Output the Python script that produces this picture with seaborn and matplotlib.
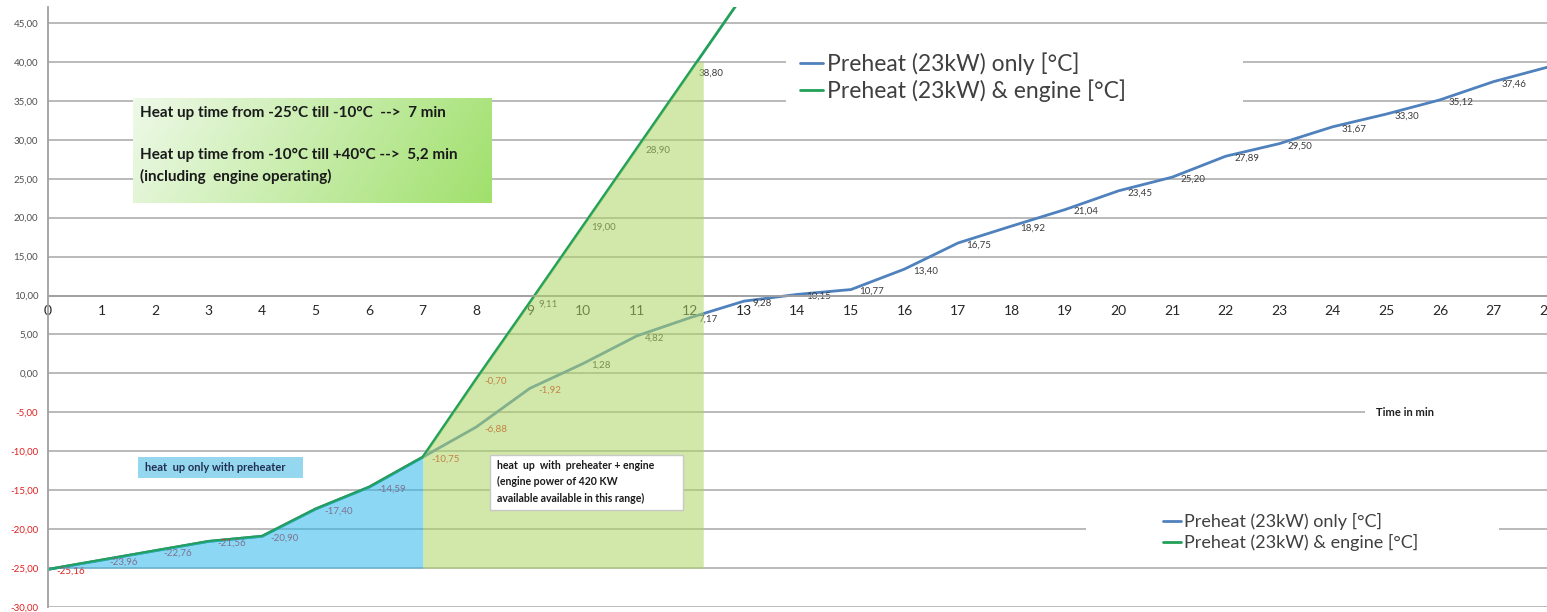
import numpy as np
import pandas as pd
import seaborn as sns
import matplotlib.pyplot as plt
from matplotlib.patches import Rectangle
from matplotlib.lines import Line2D

# data (minutes / degC)
minutes = list(range(0, 29))
preheat_only = [-25.16, -23.96, -22.76, -21.56, -20.90, -17.40, -14.59, -10.75,
                -6.88, -1.92, 1.28, 4.82, 7.17, 9.28, 10.15, 10.77, 13.40, 16.75,
                18.92, 21.04, 23.45, 25.20, 27.89, 29.50, 31.67, 33.30, 35.12,
                37.46, 39.30]
minutes_engine = list(range(0, 14))
preheat_engine = [-25.16, -23.96, -22.76, -21.56, -20.90, -17.40, -14.59, -10.75,
                  -0.70, 9.11, 19.00, 28.90, 38.80, 48.70]
yticks = list(range(-30, 50, 5))
xticks = list(range(0, 29))
series_names = ["Preheat (23kW) only [°C]", "Preheat (23kW) & engine [°C]"]

df1 = pd.DataFrame({"Time": minutes, "Temp": preheat_only})
df2 = pd.DataFrame({"Time": minutes_engine, "Temp": preheat_engine})

sns.set_style("white")
plt.rcParams['font.family'] = ['Lato', 'DejaVu Sans']

blue = "#4f81bd"
green = "#22a05a"

fig = plt.figure(figsize=(15.47, 6.12), dpi=100)
ax = fig.add_axes([0.031, 0.008, 0.969, 0.98])

sns.lineplot(data=df1, x="Time", y="Temp", color=blue, lw=2, ax=ax, zorder=2, legend=False)
sns.lineplot(data=df2, x="Time", y="Temp", color=green, lw=2, ax=ax, zorder=2.1, legend=False)

# data labels (negatives red like the excel number format)
def lab(x, v):
    c = "#e02020" if v < 0 else "#3c3c3c"
    ax.annotate(f"{v:.2f}".replace('.', ','), (x, v), xytext=(6, -1.5),
                textcoords="offset points", ha="left", va="center",
                fontsize=7, color=c, zorder=2.5, annotation_clip=True)

# last point (28 min) has no visible label in the original
for x, v in zip(minutes[:-1], preheat_only[:-1]):
    lab(x, v)
for x, v in zip(minutes_engine[8:13], preheat_engine[8:13]):
    lab(x, v)

# shaded phases drawn on top, semi transparent
ax.fill_between(minutes[:8], preheat_only[:8], -25, color=(45/255, 182/255, 236/255),
                alpha=0.55, lw=0, zorder=3)
xs = np.linspace(7, 12.24, 300)
ys = np.minimum(np.interp(xs, minutes_engine, preheat_engine), 40)
ax.fill_between(xs, ys, -25, color=(173/255, 213/255, 100/255), alpha=0.55, lw=0, zorder=3)

# axes
ax.set_xlim(0, 28)
ax.set_ylim(-30, 47)
ax.set_yticks(yticks)
ax.set_yticklabels([f"{v:.2f}".replace('.', ',') for v in yticks], fontsize=7)
for t, v in zip(ax.get_yticklabels(), yticks):
    t.set_color("#e02020" if v < 0 else "#505050")
ax.set_xticks(xticks)
ax.set_xticklabels([str(v) for v in xticks], fontsize=6.5, color="#505050")
ax.set_xlabel("")
ax.set_ylabel("")
ax.grid(axis="y", color="#b4b4b4", lw=1.3)
ax.set_axisbelow(True)
ax.spines["top"].set_visible(False)
ax.spines["right"].set_visible(False)
ax.spines["bottom"].set_position(("data", 10))
for s in ["bottom", "left"]:
    ax.spines[s].set_color("#a0a0a0")
    ax.spines[s].set_linewidth(1.3)
ax.tick_params(axis="x", direction="inout", length=5, color="#a0a0a0", pad=4)
ax.tick_params(axis="y", direction="out", length=4, color="#a0a0a0", pad=3)

# white masks behind the legends / axis title
for (x0, x1, y0, y1) in [(13.78, 22.32, 31.5, 43.0), (19.38, 27.1, -22.5, -17.0),
                         (24.6, 28.0, -6.2, -3.8)]:
    ax.add_patch(Rectangle((x0, y0), x1 - x0, y1 - y0, facecolor="white",
                           edgecolor="none", zorder=1))
ax.text(24.8, -5, "Time in min", fontsize=8, fontweight="bold", color="#202020",
        va="center", ha="left", zorder=6)

# green gradient info box
g = np.linspace(0, 1, 256)
gx, gy = np.meshgrid(g, np.linspace(0, 1, 64))
t = np.clip(0.85 * gx + 0.15 * gy, 0, 1)[..., None]
c0 = np.array([238, 249, 232]) / 255
c1 = np.array([160, 224, 108]) / 255
img = c0 * (1 - t) + c1 * t
ax.imshow(img, extent=[1.59, 8.28, 21.9, 35.37], aspect="auto", zorder=5, origin="upper")
tk = dict(fontsize=11, fontweight="bold", color="#1a1a1a", ha="left", va="center", zorder=6)
ax.text(1.72, 33.4, "Heat up time from -25°C till -10°C  -->  7 min", **tk)
ax.text(1.72, 28.05, "Heat up time from -10°C till +40°C -->  5,2 min", **tk)
ax.text(1.72, 25.3, "(including  engine operating)", **tk)

# blue label box
ax.add_patch(Rectangle((1.68, -13.43), 3.09, 2.7, facecolor="#96d7f0", edgecolor="none", zorder=5))
ax.text(1.81, -12.1, "heat  up only with preheater", fontsize=8, fontweight="bold",
        color="#1f3050", ha="left", va="center", zorder=6)

# white label box
ax.add_patch(Rectangle((8.26, -17.54), 3.61, 7.06, facecolor="white", edgecolor="#c8c8c8",
                       lw=1, zorder=5))
ax.text(8.39, -11.1, "heat  up  with  preheater + engine\n(engine power of 420 KW\navailable available in this range)",
        fontsize=7.6, fontweight="bold", color="#1a1a1a", ha="left", va="top",
        linespacing=1.6, zorder=6)

# legends
handles = [Line2D([], [], color=blue, lw=2), Line2D([], [], color=green, lw=2)]
leg1 = ax.legend(handles, series_names, loc="upper left", bbox_to_anchor=(0.502, 0.925),
                 frameon=False, fontsize=16.5, handlelength=1.0, handletextpad=0.15,
                 borderpad=0, borderaxespad=0, labelspacing=0.2, labelcolor="#404040")
ax.add_artist(leg1)
ax.legend(handles, series_names, loc="upper left", bbox_to_anchor=(0.744, 0.157),
          frameon=False, fontsize=13, handlelength=1.0, handletextpad=0.15,
          borderpad=0, borderaxespad=0, labelspacing=0.25, labelcolor="#404040")

fig.savefig("out.png", dpi=100, facecolor="white")
